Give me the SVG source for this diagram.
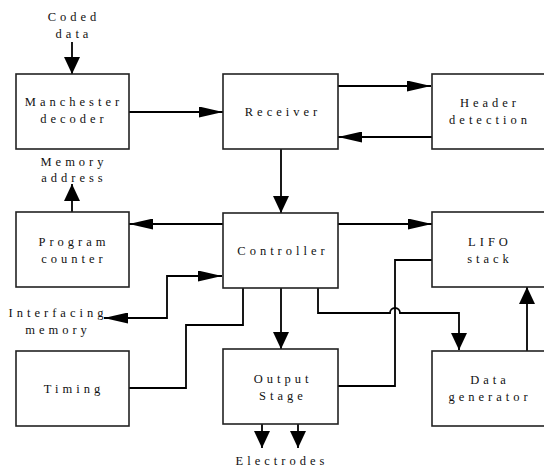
<svg xmlns="http://www.w3.org/2000/svg" width="544" height="468" viewBox="0 0 544 468">
<style>
.box{fill:#fff;stroke:#222;stroke-width:1.6}
.ln{fill:none;stroke:#000;stroke-width:1.8}
.t text{font-size:12.5px;letter-spacing:4px;fill:#111;text-anchor:middle}
</style>
<defs>
<marker id="ah" markerUnits="userSpaceOnUse" markerWidth="24" markerHeight="11" refX="24" refY="5.5" orient="auto-start-reverse"><path d="M0,0 L24,5.5 L0,11 z" fill="#000"/></marker>
<marker id="av" markerUnits="userSpaceOnUse" markerWidth="17" markerHeight="16" refX="17" refY="8" orient="auto"><path d="M0,0 L17,8 L0,16 z" fill="#000"/></marker>
</defs>
<rect width="544" height="468" fill="#fff"/>
<g id="connectors">
<path class="ln" d="M72,42 V74" marker-end="url(#av)"/>
<path class="ln" d="M129,112 H223" marker-end="url(#ah)"/>
<path class="ln" d="M338,86 H431" marker-end="url(#ah)"/>
<path class="ln" d="M432,137 H338" marker-end="url(#ah)"/>
<path class="ln" d="M281,149 V213" marker-end="url(#av)"/>
<path class="ln" d="M223,224 H129" marker-end="url(#ah)"/>
<path class="ln" d="M72,212 V184" marker-end="url(#av)"/>
<path class="ln" d="M338,224 H432" marker-end="url(#ah)"/>
<path class="ln" d="M104,318 H167 V276 H222" marker-start="url(#ah)" marker-end="url(#ah)"/>
<path class="ln" d="M129,388 H186 V325 H243 V288"/>
<path class="ln" d="M281,288 V349" marker-end="url(#av)"/>
<path class="ln" d="M338,386 H395 V260 H432"/>
<path class="ln" d="M318,288 V313 H390 A5,5 0 0 1 400,313 H459 V350" marker-end="url(#av)"/>
<path class="ln" d="M527,351 V287" marker-end="url(#av)"/>
<path class="ln" d="M262,424 V448" marker-end="url(#av)"/>
<path class="ln" d="M298,424 V448" marker-end="url(#av)"/>
</g>
<g class="t" font-family="'Liberation Serif', 'Times New Roman', Times, serif">
<g id="coded-data"><text x="74" y="21">Coded</text><text x="74" y="38">data</text></g>
<g id="manchester"><rect class="box" x="16" y="74" width="113" height="75"/><text x="74" y="106">Manchester</text><text x="74" y="123">decoder</text></g>
<g id="receiver"><rect class="box" x="223" y="74" width="115" height="75"/><text x="283" y="116">Receiver</text></g>
<g id="header"><rect class="box" x="432" y="74" width="120" height="75"/><text x="490" y="107">Header</text><text x="490" y="124">detection</text></g>
<g id="memory-address"><text x="74" y="166">Memory</text><text x="74" y="182">address</text></g>
<g id="program-counter"><rect class="box" x="16" y="212" width="113" height="75"/><text x="74" y="246">Program</text><text x="74" y="263">counter</text></g>
<g id="controller"><rect class="box" x="223" y="213" width="115" height="75"/><text x="283" y="255">Controller</text></g>
<g id="lifo"><rect class="box" x="432" y="212" width="120" height="75"/><text x="490" y="246">LIFO</text><text x="490" y="263">stack</text></g>
<g id="interfacing-memory"><text x="58" y="317">Interfacing</text><text x="58" y="334">memory</text></g>
<g id="timing"><rect class="box" x="16" y="351" width="113" height="75"/><text x="74" y="393">Timing</text></g>
<g id="output-stage"><rect class="box" x="223" y="349" width="115" height="75"/><text x="283" y="383">Output</text><text x="283" y="400">Stage</text></g>
<g id="data-generator"><rect class="box" x="432" y="351" width="120" height="75"/><text x="490" y="384">Data</text><text x="490" y="401">generator</text></g>
<g id="electrodes"><text x="282" y="465">Electrodes</text></g>
</g>
</svg>
